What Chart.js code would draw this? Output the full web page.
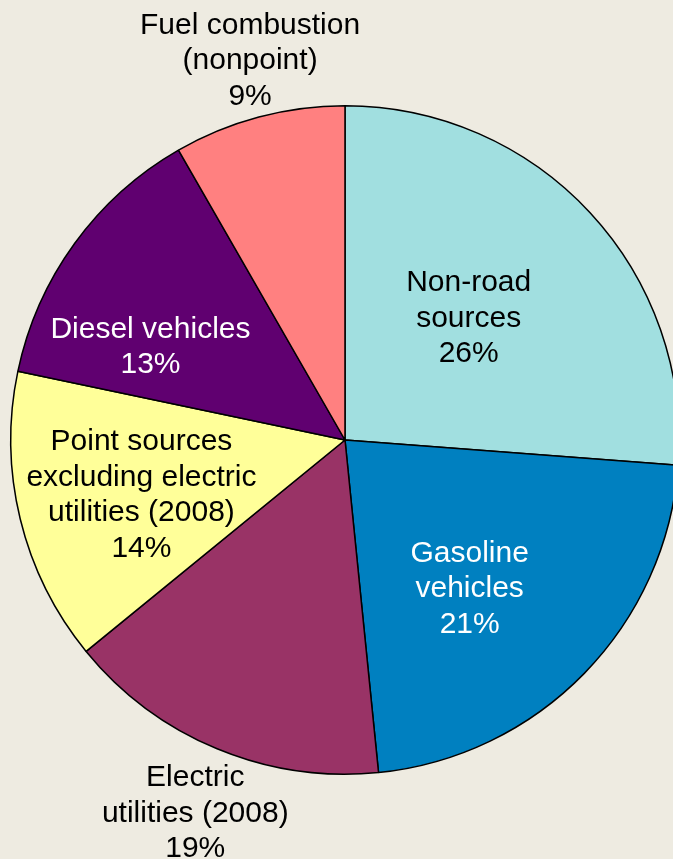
<!DOCTYPE html>
<html>
<head>
<meta charset="UTF-8">
<title>Emission sources</title>
<script src="https://cdn.jsdelivr.net/npm/chart.js"></script>
<style>
  html, body { margin: 0; padding: 0; background: #EEEBE1; overflow: hidden; }
  #wrap { width: 690px; height: 859px; }
</style>
</head>
<body>
<div id="wrap"><canvas id="pie" width="690" height="859"></canvas></div>

<script>
// slices, clockwise from 12 o'clock
const categories = ["Non-road sources", "Gasoline vehicles", "Electric utilities (2008)",
  "Point sources excluding electric utilities (2008)", "Diesel vehicles", "Fuel combustion (nonpoint)"];
// slice sizes
const shares = [26.2, 22.2, 15.7, 14.2, 13.4, 8.3];
// percentages as printed on the chart
const printed = ["26%", "21%", "19%", "14%", "13%", "9%"];
const labelLines = [
  ["Non-road", "sources"],
  ["Gasoline", "vehicles"],
  ["Electric", "utilities (2008)"],
  ["Point sources", "excluding electric", "utilities (2008)"],
  ["Diesel vehicles"],
  ["Fuel combustion", "(nonpoint)"]
];
const colors = ["#A1DFE0", "#0080C0", "#993366", "#FFFF99", "#600070", "#FF8080"];
const textColors = ["#000", "#fff", "#000", "#000", "#fff", "#000"];
// label block centre, relative to pie centre in units of radius
const labelPos = [[0.37, -0.37], [0.373, 0.439], [-0.448, 1.11], [-0.609, 0.158], [-0.582, -0.284], [-0.284, -1.14]];

const sliceLabels = {
  id: "sliceLabels",
  afterDatasetsDraw(chart) {
    const ctx = chart.ctx;
    const arcs = chart.getDatasetMeta(0).data;
    ctx.save();
    ctx.font = "30px 'Liberation Sans', Arial, sans-serif";
    ctx.textAlign = "center";
    ctx.textBaseline = "alphabetic";
    arcs.forEach((arc, i) => {
      const lines = labelLines[i].concat([printed[i]]);
      const cx = arc.x + labelPos[i][0] * arc.outerRadius;
      const cy = arc.y + labelPos[i][1] * arc.outerRadius;
      const step = 35.5;
      const y0 = cy - (lines.length - 1) * step / 2;
      ctx.fillStyle = textColors[i];
      lines.forEach((t, k) => ctx.fillText(t, cx, y0 + k * step + 10.5));
    });
    ctx.restore();
  }
};

new Chart(document.getElementById("pie"), {
  type: "pie",
  data: {
    labels: categories,
    datasets: [{
      data: shares,
      backgroundColor: colors,
      borderColor: "#000",
      borderWidth: 1.5
    }]
  },
  options: {
    responsive: false,
    animation: false,
    layout: { padding: { left: 10, right: 10, top: 105, bottom: 84 } },
    plugins: {
      legend: { display: false },
      tooltip: { enabled: false }
    }
  },
  plugins: [sliceLabels]
});
</script>
</body>
</html>
